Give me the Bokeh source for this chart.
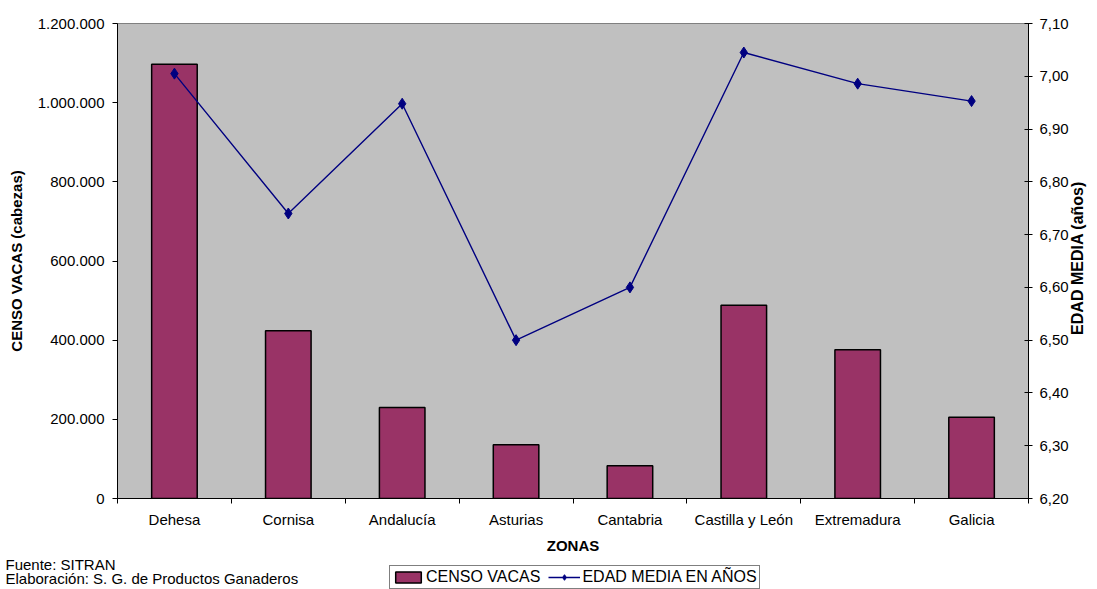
import math
from bokeh.plotting import figure
from bokeh.layouts import column, row
from bokeh.models import Range1d, LinearAxis, FixedTicker, Legend, LegendItem
from bokeh.core.properties import value
from bokeh.embed import file_html
from bokeh.resources import INLINE

zonas = ["Dehesa", "Cornisa", "Andalucía", "Asturias", "Cantabria",
         "Castilla y León", "Extremadura", "Galicia"]
censo = [1097000, 424000, 230000, 136000, 83000, 488000, 376000, 205000]
edad = [7.005, 6.74, 6.948, 6.50, 6.60, 7.045, 6.986, 6.953]

left_ticks = [0, 200000, 400000, 600000, 800000, 1000000, 1200000]
left_labels = ["0", "200.000", "400.000", "600.000", "800.000", "1.000.000", "1.200.000"]
right_ticks = [6.2, 6.3, 6.4, 6.5, 6.6, 6.7, 6.8, 6.9, 7.0, 7.1]
right_labels = ["6,20", "6,30", "6,40", "6,50", "6,60", "6,70", "6,80", "6,90", "7,00", "7,10"]
notes = ["Fuente: SITRAN", "Elaboración: S. G. de Productos Ganaderos"]
series_names = ["CENSO VACAS", "EDAD MEDIA EN AÑOS"]
right_title = "EDAD MEDIA (años)"

FONT = "Liberation Sans"
BAR = "#993366"
LINE = "#000080"

xpos = [i + 0.5 for i in range(len(zonas))]
bounds = list(range(len(zonas) + 1))

W = 1097
H1 = 556
H2 = 33

p = figure(width=W, height=H1, output_backend="svg", toolbar_location=None,
           x_range=Range1d(0, len(zonas)), y_range=Range1d(0, 1200000),
           min_border_left=117, min_border_right=64, min_border_top=23,
           min_border_bottom=58)
p.background_fill_color = "#C0C0C0"
p.border_fill_color = "white"
p.outline_line_color = "#808080"
p.grid.visible = False
p.extra_y_ranges = {"edad": Range1d(6.2, 7.1)}

p.vbar(x=xpos, top=censo, bottom=0, width=0.4, fill_color=BAR,
       line_color="black", line_width=1.5)
p.line(xpos, edad, y_range_name="edad", line_color=LINE, line_width=1.4)
p.scatter(xpos, edad, y_range_name="edad", marker="diamond", size=11,
          fill_color=LINE, line_color=LINE)

# left axis
ya = p.yaxis[0]
ya.ticker = FixedTicker(ticks=left_ticks, minor_ticks=[])
ya.major_label_overrides = dict(zip(left_ticks, left_labels))
ya.axis_label = "CENSO VACAS (cabezas)"
ya.axis_label_text_font = FONT
ya.axis_label_text_font_style = "bold"
ya.axis_label_text_font_size = "15px"
ya.axis_label_text_color = "black"
ya.axis_label_standoff = 10
ya.major_label_text_font = FONT
ya.major_label_text_font_size = "15px"
ya.major_label_text_color = "black"
ya.major_label_standoff = 8
ya.major_tick_in = 0
ya.major_tick_out = 5
ya.axis_line_color = "black"
ya.major_tick_line_color = "black"

# bottom axis
xa = p.xaxis[0]
xa.ticker = FixedTicker(ticks=xpos, minor_ticks=bounds)
xa.major_label_overrides = dict(zip(xpos, zonas))
xa.major_tick_line_color = None
xa.minor_tick_in = 0
xa.minor_tick_out = 5
xa.minor_tick_line_color = "black"
xa.axis_line_color = "black"
xa.major_label_text_font = FONT
xa.major_label_text_font_size = "15px"
xa.major_label_text_color = "black"
xa.major_label_standoff = 6
xa.axis_label = "ZONAS"
xa.axis_label_text_font = FONT
xa.axis_label_text_font_style = "bold"
xa.axis_label_text_font_size = "15px"
xa.axis_label_text_color = "black"
xa.axis_label_standoff = 6

# right axis (ticks + labels)
ra = LinearAxis(y_range_name="edad", ticker=FixedTicker(ticks=right_ticks, minor_ticks=[]))
ra.major_label_overrides = dict(zip(right_ticks, right_labels))
ra.major_label_text_font = FONT
ra.major_label_text_font_size = "15px"
ra.major_label_text_color = "black"
ra.major_label_standoff = 7
ra.major_tick_in = 4
ra.major_tick_out = 4
ra.axis_line_color = "black"
ra.major_tick_line_color = "black"
p.add_layout(ra, "right")

# right axis title, reading bottom-to-top (drawn as a single rotated tick label)
title_anchor = 6.51
rt = LinearAxis(y_range_name="edad", ticker=FixedTicker(ticks=[title_anchor], minor_ticks=[]))
rt.major_label_overrides = {title_anchor: right_title}
rt.major_label_orientation = math.pi / 2
rt.major_label_text_font = FONT
rt.major_label_text_font_style = "bold"
rt.major_label_text_font_size = "16px"
rt.major_label_text_color = "black"
rt.major_label_standoff = 6
rt.major_tick_in = 0
rt.major_tick_out = 0
rt.major_tick_line_color = None
rt.minor_tick_line_color = None
rt.axis_line_color = None
p.add_layout(rt, "right")

# footer figure: source notes + legend
p2 = figure(width=W, height=H2, output_backend="svg", toolbar_location=None,
            x_range=Range1d(0, W), y_range=Range1d(H2, 0),
            x_axis_type=None, y_axis_type=None, min_border=0)
p2.outline_line_color = None
p2.background_fill_color = "white"
p2.border_fill_color = "white"
p2.grid.visible = False
p2.text(x=[5, 5], y=[8, 22], text=notes, text_font=value(FONT),
        text_font_size="15px", text_color="black", text_baseline="alphabetic")

# legend proxies (hidden renderers carrying the series styles)
lg_bar = p2.vbar(x=xpos, top=censo, width=0.4, fill_color=BAR, line_color="black",
                 line_width=1.5, visible=False)
lg_line = p2.line(x=xpos, y=edad, line_color=LINE, line_width=1.4, visible=False)
lg_sc = p2.scatter(x=xpos, y=edad, marker="diamond", size=11, fill_color=LINE,
                   line_color=LINE, visible=False)

legend = Legend(items=[LegendItem(label=series_names[0], renderers=[lg_bar]),
                       LegendItem(label=series_names[1], renderers=[lg_line, lg_sc])],
                orientation="horizontal", location=(389, 0),
                border_line_color="black", border_line_width=1,
                background_fill_color="white", background_fill_alpha=1,
                label_text_font=FONT, label_text_font_size="16px",
                label_text_color="black", label_height=17,
                glyph_width=32, glyph_height=14, label_standoff=2,
                padding=2, spacing=8, margin=0, click_policy="none")
p2.add_layout(legend)

open("out.html", "w").write(file_html(column(p, row(p2), spacing=0), INLINE))
